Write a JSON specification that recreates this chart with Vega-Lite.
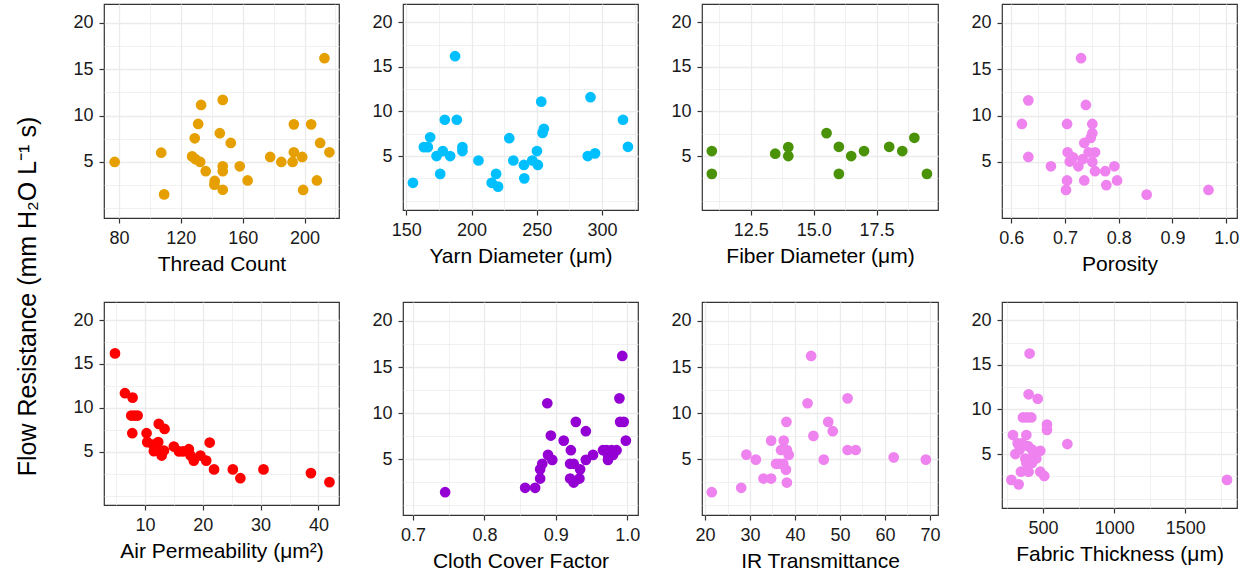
{
  "$schema": "https://vega.github.io/schema/vega-lite/v6.json",
  "background": "white",
  "padding": {"left": 16, "top": 3, "right": 5, "bottom": 5},
  "autosize": {"type": "pad"},
  "title": {"text": "Flow Resistance (mm H₂O L⁻¹ s)", "orient": "left", "anchor": "middle", "fontSize": 25, "font": "Liberation Sans", "fontWeight": "normal", "color": "#000000", "offset": 31, "dx": -9},
  "config": {
    "view": {"stroke": "#333333", "strokeWidth": 1.2},
    "axis": {"domain": false, "grid": true, "gridColor": "#EBEBEB", "tickColor": "#333333", "tickSize": 5, "tickWidth": 1.2, "labelFont": "Liberation Sans", "labelFontSize": 18, "labelColor": "#1a1a1a", "labelPadding": 6, "titleFont": "Liberation Sans", "titleFontSize": 21, "titleFontWeight": "normal", "titleColor": "#000000", "labelFlush": false, "labelOverlap": false},
    "axisX": {"labelPadding": 6, "titlePadding": 6},
    "circle": {"size": 115, "opacity": 1}
  },
  "datasets": {
    "tc": [
      {"x": 77.2, "y": 5.0}, {"x": 107.3, "y": 6.0}, {"x": 109.2, "y": 1.5}, {"x": 127.3, "y": 5.6}, {"x": 129.5, "y": 5.3}, {"x": 132.5, "y": 5.0},
      {"x": 129, "y": 7.55}, {"x": 131.2, "y": 9.1}, {"x": 133.1, "y": 11.15}, {"x": 136.1, "y": 4.0}, {"x": 141.9, "y": 2.95}, {"x": 141.7, "y": 2.55},
      {"x": 145.2, "y": 8.1}, {"x": 147.1, "y": 11.7}, {"x": 147.1, "y": 4.53}, {"x": 147.1, "y": 4.0}, {"x": 147.1, "y": 2.0}, {"x": 152.3, "y": 7.05},
      {"x": 158.1, "y": 4.53}, {"x": 163.2, "y": 3.0}, {"x": 177.8, "y": 5.54}, {"x": 185, "y": 5.0}, {"x": 192.3, "y": 5.0}, {"x": 193.1, "y": 9.06},
      {"x": 193.1, "y": 6.04}, {"x": 198.5, "y": 5.54}, {"x": 199.1, "y": 1.98}, {"x": 204.3, "y": 9.06}, {"x": 208, "y": 3.0}, {"x": 210.1, "y": 7.05},
      {"x": 212.9, "y": 16.2}, {"x": 216.1, "y": 6.04}
    ],
    "yarn": [
      {"x": 155.1, "y": 2.0}, {"x": 163.5, "y": 6.0}, {"x": 166.5, "y": 6.0}, {"x": 168.3, "y": 7.1}, {"x": 173.2, "y": 5.0}, {"x": 176, "y": 3.0},
      {"x": 178, "y": 5.56}, {"x": 179.5, "y": 9.07}, {"x": 183.6, "y": 5.0}, {"x": 187.4, "y": 16.2}, {"x": 188.7, "y": 9.07}, {"x": 193, "y": 6.0},
      {"x": 193, "y": 5.56}, {"x": 205.3, "y": 4.5}, {"x": 215.4, "y": 2.0}, {"x": 218.8, "y": 3.0}, {"x": 220.3, "y": 1.57}, {"x": 228.9, "y": 7.0},
      {"x": 232, "y": 4.5}, {"x": 240.1, "y": 4.0}, {"x": 240.4, "y": 2.5}, {"x": 246.5, "y": 4.5}, {"x": 250.1, "y": 5.56}, {"x": 250.8, "y": 4.0},
      {"x": 253.4, "y": 11.1}, {"x": 254.4, "y": 7.6}, {"x": 255.4, "y": 8.06}, {"x": 289, "y": 5.0}, {"x": 291.1, "y": 11.6}, {"x": 294.6, "y": 5.3},
      {"x": 316, "y": 9.07}, {"x": 319.8, "y": 6.04}
    ],
    "fiber": [
      {"x": 10.95, "y": 5.56}, {"x": 10.95, "y": 3.0}, {"x": 13.47, "y": 5.26}, {"x": 13.99, "y": 6.0}, {"x": 13.99, "y": 5.0}, {"x": 15.51, "y": 7.57},
      {"x": 16.0, "y": 6.04}, {"x": 16.0, "y": 3.0}, {"x": 16.49, "y": 5.0}, {"x": 17.0, "y": 5.56}, {"x": 18.0, "y": 6.04}, {"x": 18.52, "y": 5.56},
      {"x": 19.0, "y": 7.05}, {"x": 19.5, "y": 3.0}
    ],
    "poro": [
      {"x": 0.620, "y": 9.1}, {"x": 0.632, "y": 11.65}, {"x": 0.632, "y": 5.54}, {"x": 0.674, "y": 4.53}, {"x": 0.704, "y": 9.1}, {"x": 0.704, "y": 3.0},
      {"x": 0.702, "y": 1.98}, {"x": 0.705, "y": 6.04}, {"x": 0.709, "y": 5.04}, {"x": 0.715, "y": 5.5}, {"x": 0.725, "y": 4.53}, {"x": 0.730, "y": 16.2},
      {"x": 0.733, "y": 5.3}, {"x": 0.736, "y": 3.0}, {"x": 0.739, "y": 11.15}, {"x": 0.736, "y": 7.05}, {"x": 0.744, "y": 6.04}, {"x": 0.748, "y": 7.6},
      {"x": 0.751, "y": 8.1}, {"x": 0.751, "y": 9.1}, {"x": 0.751, "y": 5.0}, {"x": 0.756, "y": 6.04}, {"x": 0.756, "y": 4.0}, {"x": 0.775, "y": 4.0},
      {"x": 0.777, "y": 2.5}, {"x": 0.792, "y": 4.53}, {"x": 0.797, "y": 3.0}, {"x": 0.852, "y": 1.47}, {"x": 0.967, "y": 1.98}
    ],
    "air": [
      {"x": 4.83, "y": 16.2}, {"x": 6.55, "y": 11.67}, {"x": 7.87, "y": 11.17}, {"x": 7.64, "y": 9.13}, {"x": 8.2, "y": 9.13}, {"x": 8.74, "y": 9.13},
      {"x": 7.82, "y": 7.12}, {"x": 10.29, "y": 7.12}, {"x": 10.4, "y": 6.1}, {"x": 11.4, "y": 5.83}, {"x": 11.55, "y": 5.08}, {"x": 12.3, "y": 6.1},
      {"x": 12.4, "y": 8.18}, {"x": 12.1, "y": 5.53}, {"x": 13.0, "y": 5.08}, {"x": 12.9, "y": 4.58}, {"x": 13.4, "y": 7.6}, {"x": 13.3, "y": 5.15},
      {"x": 15.0, "y": 5.6}, {"x": 15.9, "y": 5.04}, {"x": 16.6, "y": 5.04}, {"x": 17.6, "y": 5.3}, {"x": 17.9, "y": 4.58}, {"x": 18.45, "y": 4.0},
      {"x": 19.6, "y": 4.58}, {"x": 20.6, "y": 4.0}, {"x": 21.2, "y": 6.06}, {"x": 21.95, "y": 3.0}, {"x": 25.2, "y": 3.0}, {"x": 26.5, "y": 2.0},
      {"x": 30.5, "y": 3.0}, {"x": 38.7, "y": 2.58}, {"x": 41.9, "y": 1.55}
    ],
    "cloth": [
      {"x": 0.745, "y": 1.42}, {"x": 0.857, "y": 1.9}, {"x": 0.871, "y": 1.9}, {"x": 0.878, "y": 2.9}, {"x": 0.878, "y": 3.9}, {"x": 0.881, "y": 4.5},
      {"x": 0.889, "y": 5.47}, {"x": 0.888, "y": 11.07}, {"x": 0.893, "y": 7.57}, {"x": 0.895, "y": 4.93}, {"x": 0.911, "y": 7.02}, {"x": 0.921, "y": 5.98},
      {"x": 0.920, "y": 4.5}, {"x": 0.925, "y": 4.5}, {"x": 0.920, "y": 2.9}, {"x": 0.925, "y": 2.47}, {"x": 0.928, "y": 9.05}, {"x": 0.933, "y": 2.9},
      {"x": 0.934, "y": 3.9}, {"x": 0.942, "y": 8.04}, {"x": 0.942, "y": 4.93}, {"x": 0.952, "y": 5.47}, {"x": 0.966, "y": 5.98}, {"x": 0.971, "y": 5.98},
      {"x": 0.973, "y": 5.47}, {"x": 0.973, "y": 4.93}, {"x": 0.978, "y": 5.98}, {"x": 0.985, "y": 5.98}, {"x": 0.980, "y": 5.47}, {"x": 0.989, "y": 11.6},
      {"x": 0.993, "y": 16.2}, {"x": 0.990, "y": 9.05}, {"x": 0.995, "y": 9.05}, {"x": 0.998, "y": 7.02}
    ],
    "ir": [
      {"x": 21.5, "y": 1.42}, {"x": 28.05, "y": 1.9}, {"x": 29.2, "y": 5.5}, {"x": 31.3, "y": 4.96}, {"x": 33.0, "y": 2.9}, {"x": 34.7, "y": 2.9},
      {"x": 34.7, "y": 7.02}, {"x": 35.8, "y": 4.5}, {"x": 36.6, "y": 4.5}, {"x": 36.9, "y": 6.0}, {"x": 37.4, "y": 4.5}, {"x": 37.5, "y": 7.02},
      {"x": 38.0, "y": 3.85}, {"x": 38.2, "y": 6.0}, {"x": 38.1, "y": 9.05}, {"x": 38.2, "y": 2.47}, {"x": 38.6, "y": 5.47}, {"x": 42.8, "y": 11.07},
      {"x": 43.6, "y": 16.2}, {"x": 44.1, "y": 7.53}, {"x": 46.4, "y": 4.96}, {"x": 47.4, "y": 9.05}, {"x": 48.4, "y": 8.04}, {"x": 51.7, "y": 11.6},
      {"x": 51.7, "y": 6.0}, {"x": 53.5, "y": 6.0}, {"x": 61.95, "y": 5.2}, {"x": 69.1, "y": 4.96}
    ],
    "thick": [
      {"x": 406, "y": 16.27}, {"x": 399, "y": 11.7}, {"x": 463, "y": 11.2}, {"x": 359, "y": 9.1}, {"x": 388, "y": 9.1}, {"x": 418, "y": 9.1},
      {"x": 289, "y": 7.13}, {"x": 383, "y": 7.13}, {"x": 528, "y": 8.3}, {"x": 528, "y": 7.7}, {"x": 671, "y": 6.12}, {"x": 322, "y": 6.2},
      {"x": 352, "y": 6.2}, {"x": 306, "y": 5.0}, {"x": 336, "y": 5.5}, {"x": 395, "y": 5.9}, {"x": 423, "y": 5.5}, {"x": 453, "y": 5.07},
      {"x": 481, "y": 5.37}, {"x": 376, "y": 4.5}, {"x": 418, "y": 4.5}, {"x": 453, "y": 4.5}, {"x": 383, "y": 4.0}, {"x": 423, "y": 4.0},
      {"x": 345, "y": 3.02}, {"x": 399, "y": 3.02}, {"x": 481, "y": 3.02}, {"x": 509, "y": 2.54}, {"x": 278, "y": 2.1}, {"x": 329, "y": 1.6},
      {"x": 1793, "y": 2.1}
    ]
  },
  "columns": 4,
  "spacing": {"row": 84, "column": 64},
  "bounds": "flush",
  "concat": [
    {
      "width": 235, "height": 214,
      "data": {"name": "tc"},
      "mark": {"type": "circle", "color": "#E69F00"},
      "encoding": {
        "x": {"field": "x", "type": "quantitative", "scale": {"domain": [70.3, 222.3], "nice": false, "zero": false},
          "axis": {"title": "Thread Count", "values": [80, 100, 120, 140, 160, 180, 200, 220], "format": "d",
            "labelExpr": "datum.value % 40 === 0 ? datum.label : ''",
            "gridWidth": {"condition": {"test": "datum.value % 40 === 0", "value": 1.3}, "value": 0.7},
            "tickOpacity": {"condition": {"test": "datum.value % 40 === 0", "value": 1}, "value": 0}}},
        "y": {"field": "y", "type": "quantitative", "scale": {"domain": [-1.05, 22.05], "nice": false, "zero": false},
          "axis": {"title": null, "values": [0, 2.5, 5, 7.5, 10, 12.5, 15, 17.5, 20],
            "labelExpr": "datum.value % 5 === 0 && datum.value > 0 ? datum.label : ''",
            "gridWidth": {"condition": {"test": "datum.value % 5 === 0 && datum.value > 0", "value": 1.3}, "value": 0.7},
            "tickOpacity": {"condition": {"test": "datum.value % 5 === 0 && datum.value > 0", "value": 1}, "value": 0}}}
      }
    },
    {
      "width": 235, "height": 206,
      "data": {"name": "yarn"},
      "mark": {"type": "circle", "color": "#00BFFF"},
      "encoding": {
        "x": {"field": "x", "type": "quantitative", "scale": {"domain": [147.5, 327.5], "nice": false, "zero": false},
          "axis": {"title": "Yarn Diameter (μm)", "values": [150, 175, 200, 225, 250, 275, 300, 325], "format": "d",
            "labelExpr": "datum.value % 50 === 0 ? datum.label : ''",
            "gridWidth": {"condition": {"test": "datum.value % 50 === 0", "value": 1.3}, "value": 0.7},
            "tickOpacity": {"condition": {"test": "datum.value % 50 === 0", "value": 1}, "value": 0}}},
        "y": {"field": "y", "type": "quantitative", "scale": {"domain": [-1.05, 22.05], "nice": false, "zero": false},
          "axis": {"title": null, "values": [0, 2.5, 5, 7.5, 10, 12.5, 15, 17.5, 20],
            "labelExpr": "datum.value % 5 === 0 && datum.value > 0 ? datum.label : ''",
            "gridWidth": {"condition": {"test": "datum.value % 5 === 0 && datum.value > 0", "value": 1.3}, "value": 0.7},
            "tickOpacity": {"condition": {"test": "datum.value % 5 === 0 && datum.value > 0", "value": 1}, "value": 0}}}
      }
    },
    {
      "width": 236, "height": 206,
      "data": {"name": "fiber"},
      "mark": {"type": "circle", "color": "#4A9308"},
      "encoding": {
        "x": {"field": "x", "type": "quantitative", "scale": {"domain": [10.56, 19.94], "nice": false, "zero": false},
          "axis": {"title": "Fiber Diameter (μm)", "values": [11.25, 12.5, 13.75, 15, 16.25, 17.5, 18.75], "format": ".1f",
            "labelExpr": "(datum.value * 4) % 10 === 0 ? datum.label : ''",
            "gridWidth": {"condition": {"test": "(datum.value * 4) % 10 === 0", "value": 1.3}, "value": 0.7},
            "tickOpacity": {"condition": {"test": "(datum.value * 4) % 10 === 0", "value": 1}, "value": 0}}},
        "y": {"field": "y", "type": "quantitative", "scale": {"domain": [-1.05, 22.05], "nice": false, "zero": false},
          "axis": {"title": null, "values": [0, 2.5, 5, 7.5, 10, 12.5, 15, 17.5, 20],
            "labelExpr": "datum.value % 5 === 0 && datum.value > 0 ? datum.label : ''",
            "gridWidth": {"condition": {"test": "datum.value % 5 === 0 && datum.value > 0", "value": 1.3}, "value": 0.7},
            "tickOpacity": {"condition": {"test": "datum.value % 5 === 0 && datum.value > 0", "value": 1}, "value": 0}}}
      }
    },
    {
      "width": 235, "height": 214,
      "data": {"name": "poro"},
      "mark": {"type": "circle", "color": "#EE82EE"},
      "encoding": {
        "x": {"field": "x", "type": "quantitative", "scale": {"domain": [0.583, 1.02], "nice": false, "zero": false},
          "axis": {"title": "Porosity", "values": [0.6, 0.65, 0.7, 0.75, 0.8, 0.85, 0.9, 0.95, 1.0], "format": ".1f",
            "labelExpr": "round(datum.value * 100) % 10 === 0 ? datum.label : ''",
            "gridWidth": {"condition": {"test": "round(datum.value * 100) % 10 === 0", "value": 1.3}, "value": 0.7},
            "tickOpacity": {"condition": {"test": "round(datum.value * 100) % 10 === 0", "value": 1}, "value": 0}}},
        "y": {"field": "y", "type": "quantitative", "scale": {"domain": [-1.05, 22.05], "nice": false, "zero": false},
          "axis": {"title": null, "values": [0, 2.5, 5, 7.5, 10, 12.5, 15, 17.5, 20],
            "labelExpr": "datum.value % 5 === 0 && datum.value > 0 ? datum.label : ''",
            "gridWidth": {"condition": {"test": "datum.value % 5 === 0 && datum.value > 0", "value": 1.3}, "value": 0.7},
            "tickOpacity": {"condition": {"test": "datum.value % 5 === 0 && datum.value > 0", "value": 1}, "value": 0}}}
      }
    },
    {
      "width": 235, "height": 203,
      "data": {"name": "air"},
      "mark": {"type": "circle", "color": "#FF0000"},
      "encoding": {
        "x": {"field": "x", "type": "quantitative", "scale": {"domain": [2.93, 43.55], "nice": false, "zero": false},
          "axis": {"title": "Air Permeability (μm²)", "values": [5, 10, 15, 20, 25, 30, 35, 40], "format": "d",
            "labelExpr": "datum.value % 10 === 0 ? datum.label : ''",
            "gridWidth": {"condition": {"test": "datum.value % 10 === 0", "value": 1.3}, "value": 0.7},
            "tickOpacity": {"condition": {"test": "datum.value % 10 === 0", "value": 1}, "value": 0}}},
        "y": {"field": "y", "type": "quantitative", "scale": {"domain": [-1.05, 22.05], "nice": false, "zero": false},
          "axis": {"title": null, "values": [0, 2.5, 5, 7.5, 10, 12.5, 15, 17.5, 20],
            "labelExpr": "datum.value % 5 === 0 && datum.value > 0 ? datum.label : ''",
            "gridWidth": {"condition": {"test": "datum.value % 5 === 0 && datum.value > 0", "value": 1.3}, "value": 0.7},
            "tickOpacity": {"condition": {"test": "datum.value % 5 === 0 && datum.value > 0", "value": 1}, "value": 0}}}
      }
    },
    {
      "width": 235, "height": 213,
      "data": {"name": "cloth"},
      "mark": {"type": "circle", "color": "#9400D3"},
      "encoding": {
        "x": {"field": "x", "type": "quantitative", "scale": {"domain": [0.686, 1.015], "nice": false, "zero": false},
          "axis": {"title": "Cloth Cover Factor", "values": [0.7, 0.75, 0.8, 0.85, 0.9, 0.95, 1.0], "format": ".1f",
            "labelExpr": "round(datum.value * 100) % 10 === 0 ? datum.label : ''",
            "gridWidth": {"condition": {"test": "round(datum.value * 100) % 10 === 0", "value": 1.3}, "value": 0.7},
            "tickOpacity": {"condition": {"test": "round(datum.value * 100) % 10 === 0", "value": 1}, "value": 0}}},
        "y": {"field": "y", "type": "quantitative", "scale": {"domain": [-1.05, 22.05], "nice": false, "zero": false},
          "axis": {"title": null, "values": [0, 2.5, 5, 7.5, 10, 12.5, 15, 17.5, 20],
            "labelExpr": "datum.value % 5 === 0 && datum.value > 0 ? datum.label : ''",
            "gridWidth": {"condition": {"test": "datum.value % 5 === 0 && datum.value > 0", "value": 1.3}, "value": 0.7},
            "tickOpacity": {"condition": {"test": "datum.value % 5 === 0 && datum.value > 0", "value": 1}, "value": 0}}}
      }
    },
    {
      "width": 236, "height": 213,
      "data": {"name": "ir"},
      "mark": {"type": "circle", "color": "#EE82EE"},
      "encoding": {
        "x": {"field": "x", "type": "quantitative", "scale": {"domain": [19.33, 71.8], "nice": false, "zero": false},
          "axis": {"title": "IR Transmittance", "values": [20, 25, 30, 35, 40, 45, 50, 55, 60, 65, 70], "format": "d",
            "labelExpr": "datum.value % 10 === 0 ? datum.label : ''",
            "gridWidth": {"condition": {"test": "datum.value % 10 === 0", "value": 1.3}, "value": 0.7},
            "tickOpacity": {"condition": {"test": "datum.value % 10 === 0", "value": 1}, "value": 0}}},
        "y": {"field": "y", "type": "quantitative", "scale": {"domain": [-1.05, 22.05], "nice": false, "zero": false},
          "axis": {"title": null, "values": [0, 2.5, 5, 7.5, 10, 12.5, 15, 17.5, 20],
            "labelExpr": "datum.value % 5 === 0 && datum.value > 0 ? datum.label : ''",
            "gridWidth": {"condition": {"test": "datum.value % 5 === 0 && datum.value > 0", "value": 1.3}, "value": 0.7},
            "tickOpacity": {"condition": {"test": "datum.value % 5 === 0 && datum.value > 0", "value": 1}, "value": 0}}}
      }
    },
    {
      "width": 235, "height": 206,
      "data": {"name": "thick"},
      "mark": {"type": "circle", "color": "#EE82EE"},
      "encoding": {
        "x": {"field": "x", "type": "quantitative", "scale": {"domain": [212, 1863], "nice": false, "zero": false},
          "axis": {"title": "Fabric Thickness (μm)", "values": [250, 500, 750, 1000, 1250, 1500, 1750], "format": "d",
            "labelExpr": "datum.value % 500 === 0 ? datum.label : ''",
            "gridWidth": {"condition": {"test": "datum.value % 500 === 0", "value": 1.3}, "value": 0.7},
            "tickOpacity": {"condition": {"test": "datum.value % 500 === 0", "value": 1}, "value": 0}}},
        "y": {"field": "y", "type": "quantitative", "scale": {"domain": [-1.05, 22.05], "nice": false, "zero": false},
          "axis": {"title": null, "values": [0, 2.5, 5, 7.5, 10, 12.5, 15, 17.5, 20],
            "labelExpr": "datum.value % 5 === 0 && datum.value > 0 ? datum.label : ''",
            "gridWidth": {"condition": {"test": "datum.value % 5 === 0 && datum.value > 0", "value": 1.3}, "value": 0.7},
            "tickOpacity": {"condition": {"test": "datum.value % 5 === 0 && datum.value > 0", "value": 1}, "value": 0}}}
      }
    }
  ]
}
